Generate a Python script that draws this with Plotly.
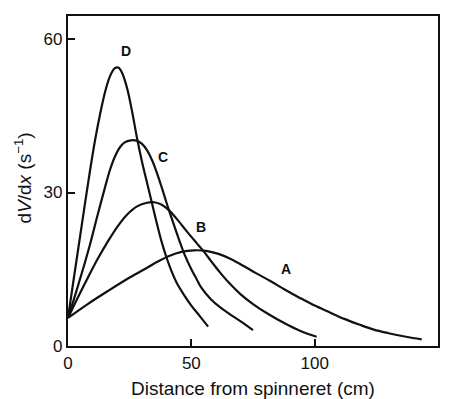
import plotly.graph_objects as go

# Curve data (distance cm, dV/dx s^-1)
a_x = [0, 8, 16, 24, 31, 36, 41, 46, 51, 56, 61, 66, 71, 76, 82, 88, 94, 100, 106, 112, 118, 124, 130, 137, 143.4]
a_y = [5.5, 8.2, 10.7, 13.1, 15.0, 16.4, 17.6, 18.4, 18.7, 18.6, 18.0, 17.0, 15.7, 14.3, 12.7, 11.0, 9.4, 7.9, 6.6, 5.3, 4.2, 3.2, 2.5, 1.8, 1.3]

b_x = [0, 4, 8, 12, 16, 20, 24, 28, 32, 35, 38, 41, 44, 48, 52, 55, 58, 61.6, 65, 70, 75, 81, 88, 94, 100.8]
b_y = [5.5, 9.5, 13.3, 17.0, 20.3, 23.3, 25.7, 27.3, 28.0, 28.1, 27.6, 26.5, 24.9, 22.5, 20.2, 18.5, 16.6, 14.4, 12.5, 10.1, 8.2, 6.3, 4.4, 3.0, 1.8]

c_x = [0, 3, 6, 9, 12, 15, 17, 19, 21, 23, 25.5, 28, 30, 32, 34, 36, 38, 40, 42.7, 45, 47.4, 50, 52, 54.2, 58, 61.6, 65.7, 70, 75]
c_y = [5.5, 10.1, 14.9, 20.0, 25.6, 31.0, 34.4, 37.0, 38.8, 39.8, 40.2, 40.1, 39.5, 38.3, 36.4, 33.9, 31.0, 27.9, 24.0, 20.8, 17.7, 15.0, 13.2, 11.3, 9.1, 7.6, 6.2, 4.8, 3.1]

d_x = [0, 3, 6, 9, 11, 13, 15, 17, 19, 20.5, 22, 24, 26, 28, 30, 32, 34, 36, 38, 40, 42, 44, 47, 50, 53.5, 56.8]
d_y = [5.5, 15.3, 25.0, 34.5, 40.3, 45.3, 49.6, 52.7, 54.3, 54.4, 53.3, 50.3, 45.8, 40.6, 36.0, 32.0, 28.0, 24.0, 20.3, 17.2, 14.6, 12.4, 10.0, 7.9, 5.8, 3.8]

labels = ["A", "B", "C", "D"]
label_x = [88.4, 54, 38.5, 23.5]
label_y = [15.1, 23.3, 37.0, 57.7]

x_ticks = [0, 50, 100, 150]
y_ticks = [0, 30, 60]

FONT = "Liberation Sans, Arial, sans-serif"
INK = "#111111"

fig = go.Figure()
for xs, ys in [(a_x, a_y), (b_x, b_y), (c_x, c_y), (d_x, d_y)]:
    fig.add_trace(go.Scatter(x=xs, y=ys, mode="lines",
                             line=dict(color=INK, width=2.2, shape="spline", smoothing=1.0),
                             showlegend=False, hoverinfo="skip"))

for t, lx, ly in zip(labels, label_x, label_y):
    fig.add_annotation(x=lx, y=ly, text="<b>%s</b>" % t, showarrow=False,
                       font=dict(family=FONT, size=14, color=INK))

fig.add_annotation(xref="paper", yref="paper", x=0.5, y=-0.09, xanchor="center", yanchor="top",
                   text="Distance from spinneret (cm)", showarrow=False,
                   font=dict(family=FONT, size=19, color=INK))
fig.add_annotation(xref="paper", yref="paper", x=-0.122, y=0.51, xanchor="center", yanchor="middle",
                   textangle=-90,
                   text="d<i>V</i>/d<i>x</i> (s<sup>−1</sup>)", showarrow=False,
                   font=dict(family=FONT, size=19, color=INK))

fig.update_xaxes(range=[0, 150], tickvals=x_ticks, ticks="inside", ticklen=7, tickwidth=2,
                 tickcolor=INK, showline=True, linecolor=INK, linewidth=2.2,
                 mirror=True, showgrid=False, zeroline=False,
                 tickfont=dict(family=FONT, size=17, color=INK))
fig.update_yaxes(range=[0, 64.5], tickvals=y_ticks, ticks="inside", ticklen=7, tickwidth=2,
                 tickcolor=INK, showline=True, linecolor=INK, linewidth=2.2,
                 mirror=True, showgrid=False, zeroline=False,
                 tickfont=dict(family=FONT, size=17, color=INK))

# page body adds ~8px offset; compensate so the plot area lands at x 68-438, y 14-346
fig.update_layout(width=442, height=391, margin=dict(l=60, r=12, t=6, b=53),
                  plot_bgcolor="white", paper_bgcolor="white")

fig.write_html("out.html")
